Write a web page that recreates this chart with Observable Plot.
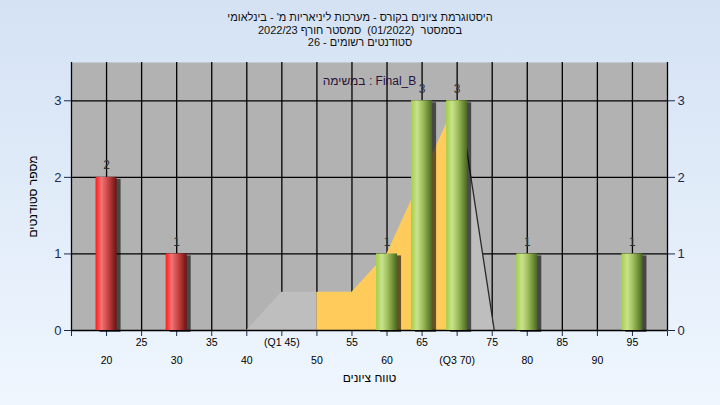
<!DOCTYPE html>
<html><head><meta charset="utf-8">
<script src="https://cdn.jsdelivr.net/npm/d3@7"></script>
<script src="https://cdn.jsdelivr.net/npm/@observablehq/plot@0.6"></script>
<style>
html,body{margin:0;padding:0;}
#wrap{position:relative;width:720px;height:405px;background:linear-gradient(#d4e2f4,#eff6fe);overflow:hidden;font-family:"Liberation Sans",Arial,sans-serif;}
.t{position:absolute;left:0;width:720px;text-align:center;font-size:11px;line-height:12px;color:#111;white-space:pre;}
#chart{position:absolute;left:0;top:0;}
</style></head><body>
<div id="wrap"><div id="chart"></div>
<div class="t" dir="rtl" style="top:11px" id="t1"></div>
<div class="t" dir="rtl" style="top:24px" id="t2"></div>
<div class="t" dir="rtl" style="top:36px" id="t3"></div>
</div>
<script>
// ---- data ----
const titleLines = ["היסטוגרמת ציונים בקורס - מערכות ליניאריות מ' - בינלאומי", "בסמסטר  (01/2022)  סמסטר חורף 2022/23", "סטודנטים רשומים - 26"];
const subtitle = "במשימה : Final_B";
const xTitle = "טווח ציונים";
const yTitle = "מספר סטודנטים";
const grades = [20, 30, 60, 65, 70, 80, 95];
const counts = [2, 1, 1, 3, 3, 1, 1];
const passGrade = 55;
const xGrid = [15, 20, 25, 30, 35, 40, 45, 50, 55, 60, 65, 70, 75, 80, 85, 90, 95, 100];
const xTicks = [20, 25, 30, 35, 40, 45, 50, 55, 60, 65, 70, 75, 80, 85, 90, 95];
const xTickLabels = ["20", "25", "30", "35", "40", "(Q1 45)", "50", "55", "60", "65", "(Q3 70)", "75", "80", "85", "90", "95"];
const yTicks = [0, 1, 2, 3];
const q1AreaX = [40, 45, 50];
const q1AreaY = [0, 0.5, 0.5];
const iqrAreaX = [50, 55, 60, 65, 70, 70.3];
const iqrAreaY = [0.5, 0.5, 1, 2, 3, 3];
const q3AreaX = [70.3, 75.3];
const q3AreaY = [3, 0];

document.getElementById("t1").textContent = titleLines[0];
document.getElementById("t2").textContent = titleLines[1];
document.getElementById("t3").textContent = titleLines[2];

const bars = grades.map((g, i) => ({grade: g, count: counts[i]}));
const pts = (xs, ys) => xs.map((x, i) => ({x, y: ys[i]}));
const tickRows = xTicks.map((v, i) => ({v, label: xTickLabels[i], row: i % 2}));
const half = 1.5;
const FONT = '"Liberation Sans", Arial, sans-serif';

const chart = Plot.plot({
  width: 720, height: 405,
  marginTop: 62, marginBottom: 75, marginLeft: 71, marginRight: 53,
  style: {background: "transparent", fontFamily: FONT, fontSize: "13px", color: "#1b2a4e", overflow: "visible"},
  x: {domain: [15, 100], ticks: xGrid, tickFormat: () => "", tickSize: 6, label: null},
  y: {domain: [0, 3.5], ticks: yTicks, tickSize: 7, tickPadding: 3, axis: "both", label: null, tickFormat: d => String(d)},
  marks: [
    Plot.frame({fill: "#b2b2b2"}),
    Plot.ruleX(xGrid, {stroke: "#000", strokeWidth: 1.3}),
    Plot.ruleY(yTicks.filter(d => d > 0), {stroke: "#000", strokeWidth: 1.3}),
    Plot.areaY(pts(q1AreaX, q1AreaY), {x: "x", y: "y", fill: "#bebebe", curve: "linear"}),
    Plot.areaY(pts(iqrAreaX, iqrAreaY), {x: "x", y: "y", fill: "#ffcc5c", curve: "linear"}),
    Plot.areaY(pts(q3AreaX, q3AreaY), {x: "x", y: "y", fill: "#bebebe", curve: "linear"}),
    Plot.line(pts(q3AreaX, q3AreaY), {x: "x", y: "y", stroke: "#2a2a2a", strokeWidth: 1.3}),
    Plot.ruleY([0], {stroke: "#000", strokeWidth: 1.5}),
    Plot.rectY(bars, {x1: d => d.grade - half, x2: d => d.grade + half, y: "count", dx: 4, dy: 2, fill: "#000", fillOpacity: 0.6, ariaLabel: "bar-shadow"}),
    Plot.rectY(bars, {filter: d => d.grade < passGrade, x1: d => d.grade - half, x2: d => d.grade + half, y: "count", fill: "url(#gRed)"}),
    Plot.rectY(bars, {filter: d => d.grade >= passGrade, x1: d => d.grade - half, x2: d => d.grade + half, y: "count", fill: "url(#gGreen)"}),
    Plot.text(bars, {x: "grade", y: "count", text: d => String(d.count), dy: -12, fill: "#333", fontSize: 12}),
    Plot.text(tickRows, {x: "v", text: "label", frameAnchor: "bottom", fill: "#000", fontSize: 10.5, filter: d => d.row === 1, dy: 15}),
    Plot.text(tickRows, {x: "v", text: "label", frameAnchor: "bottom", fill: "#000", fontSize: 10.5, filter: d => d.row === 0, dy: 33}),
    Plot.text([xTitle], {text: d => d, frameAnchor: "bottom", dy: 51, fill: "#000", fontSize: 12}),
    Plot.text([yTitle], {text: d => d, frameAnchor: "left", textAnchor: "middle", dx: -38, rotate: -90, fill: "#000", fontSize: 12}),
    Plot.text([subtitle], {text: d => "\u200E" + d, frameAnchor: "top", textAnchor: "middle", dy: 14, fill: "#2a1238", fontSize: 12})
  ]
});
const svgEl = chart.tagName.toLowerCase() === "svg" ? chart : chart.querySelector("svg");
const svg = d3.select(svgEl);
const defs = svg.insert("defs", ":first-child");
function grad(id, stops) {
  const g = defs.append("linearGradient").attr("id", id).attr("x1", 0).attr("x2", 1).attr("y1", 0).attr("y2", 0);
  stops.forEach(([o, c]) => g.append("stop").attr("offset", o).attr("stop-color", c));
}
grad("gRed", [[0, "#ff1a1a"], [0.28, "#f27474"], [0.55, "#cf4a4a"], [1, "#6e1010"]]);
grad("gGreen", [[0, "#a4cf45"], [0.28, "#c9e28f"], [0.55, "#a0bf5a"], [1, "#4a6822"]]);
defs.append("filter").attr("id", "blurS").attr("x", "-60%").attr("y", "-10%").attr("width", "220%").attr("height", "120%")
  .append("feGaussianBlur").attr("stdDeviation", 2);
svg.selectAll('g[aria-label="bar-shadow"]').attr("filter", "url(#blurS)");
document.getElementById("chart").appendChild(chart);
</script>
</body></html>
